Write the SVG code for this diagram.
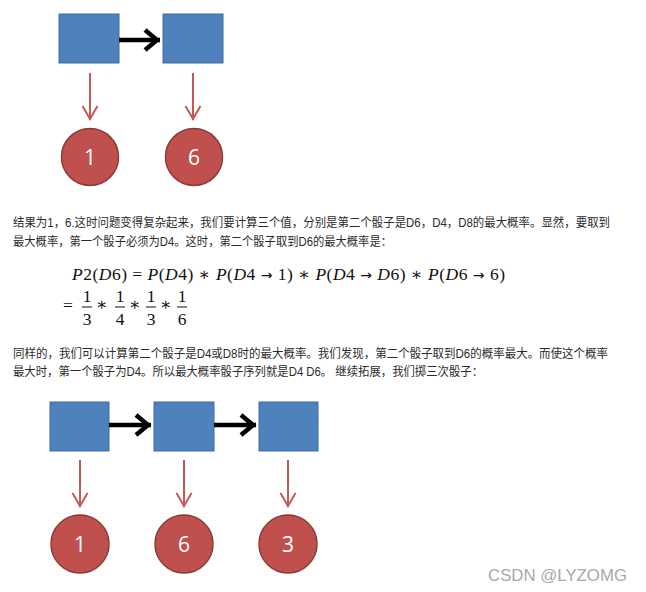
<svg xmlns="http://www.w3.org/2000/svg" width="646" height="592" viewBox="0 0 646 592">
<style>
.box{fill:#4f81bd;stroke:#3e6da6;stroke-width:1}
.ball{fill:#c0504d;stroke:#8f3a37;stroke-width:1.5}
.num{font-family:"Open Sans","Liberation Sans",Arial,sans-serif;font-size:21px;fill:#fff;text-anchor:middle}
.blk{stroke:#000;stroke-width:4.5;fill:none}
.red{stroke:#c45a57;stroke-width:2;fill:none}
.p{font-family:"Liberation Sans","Noto Sans CJK SC",sans-serif;font-size:12px;fill:#2b2b2b}
.m{font-family:"Liberation Serif","DejaVu Serif",serif;font-size:17.5px;fill:#111}
.i{font-style:italic}
.ar{font-family:"DejaVu Sans",sans-serif;font-size:14px}
.c{text-anchor:middle}
.bar{stroke:#111;stroke-width:1}
.wm{font-family:"Liberation Sans",Arial,sans-serif;font-size:16px;fill:#a8a8a8}
</style>
<defs>
<marker id="hb" markerUnits="userSpaceOnUse" markerWidth="30" markerHeight="30" viewBox="-20 -15 30 30" refX="0" refY="0" orient="auto" overflow="visible">
<path d="M-15,-10 L-3,0 L-15,10" fill="none" stroke="#000" stroke-width="4.5"/>
</marker>
<marker id="hr" markerUnits="userSpaceOnUse" markerWidth="30" markerHeight="30" viewBox="-20 -15 30 30" refX="0" refY="0" orient="auto" overflow="visible">
<path d="M-14,-7.5 L-1,0 L-14,7.5" fill="none" stroke="#c45a57" stroke-width="2"/>
</marker>
</defs>

<g id="top-diagram">
<g id="t-box1"><rect class="box" x="59" y="14" width="60" height="49"/></g>
<g id="t-box2"><rect class="box" x="163" y="14" width="60" height="49"/></g>
<g id="t-out1"><circle class="ball" cx="90" cy="157" r="28.5"/><text class="num" x="90" y="164.5">1</text></g>
<g id="t-out2"><circle class="ball" cx="194" cy="157" r="28.5"/><text class="num" x="194" y="164.5">6</text></g>
<g id="t-connectors">
<line class="blk" x1="119" y1="40" x2="160" y2="40" marker-end="url(#hb)"/>
<line class="red" x1="90" y1="73" x2="90" y2="120" marker-end="url(#hr)"/>
<line class="red" x1="193" y1="73" x2="193" y2="120" marker-end="url(#hr)"/>
</g>
</g>

<g id="para1">
<text class="p" x="13" y="227" textLength="597" lengthAdjust="spacingAndGlyphs">结果为1，6.这时问题变得复杂起来，我们要计算三个值，分别是第二个骰子是D6，D4，D8的最大概率。显然，要取到</text>
<text class="p" x="13" y="246" textLength="379" lengthAdjust="spacingAndGlyphs">最大概率，第一个骰子必须为D4。这时，第二个骰子取到D6的最大概率是：</text>
</g>

<g id="formula">
<text class="m" x="72" y="280" textLength="433" lengthAdjust="spacing"><tspan class="i">P</tspan>2(<tspan class="i">D</tspan>6) = <tspan class="i">P</tspan>(<tspan class="i">D</tspan>4) ∗ <tspan class="i">P</tspan>(<tspan class="i">D</tspan>4 <tspan class="ar">→</tspan> 1) ∗ <tspan class="i">P</tspan>(<tspan class="i">D</tspan>4 <tspan class="ar">→</tspan> <tspan class="i">D</tspan>6) ∗ <tspan class="i">P</tspan>(<tspan class="i">D</tspan>6 <tspan class="ar">→</tspan> 6)</text>
<text class="m c" x="68" y="311">=</text>
<text class="m c" x="87" y="302">1</text><line class="bar" x1="82" y1="307" x2="92" y2="307"/><text class="m c" x="87" y="325">3</text>
<text class="m c" x="102" y="310">∗</text>
<text class="m c" x="120" y="302">1</text><line class="bar" x1="115" y1="307" x2="125" y2="307"/><text class="m c" x="120" y="325">4</text>
<text class="m c" x="135" y="310">∗</text>
<text class="m c" x="151" y="302">1</text><line class="bar" x1="146" y1="307" x2="156" y2="307"/><text class="m c" x="151" y="325">3</text>
<text class="m c" x="166" y="310">∗</text>
<text class="m c" x="182" y="302">1</text><line class="bar" x1="177" y1="307" x2="187" y2="307"/><text class="m c" x="182" y="325">6</text>
</g>

<g id="para2">
<text class="p" x="13" y="358" textLength="595" lengthAdjust="spacingAndGlyphs">同样的，我们可以计算第二个骰子是D4或D8时的最大概率。我们发现，第二个骰子取到D6的概率最大。而使这个概率</text>
<text class="p" x="13" y="376" textLength="470" lengthAdjust="spacingAndGlyphs">最大时，第一个骰子为D4。所以最大概率骰子序列就是D4 D6。 继续拓展，我们掷三次骰子：</text>
</g>

<g id="bottom-diagram">
<g id="b-box1"><rect class="box" x="50" y="402" width="59" height="49"/></g>
<g id="b-box2"><rect class="box" x="154" y="402" width="60" height="49"/></g>
<g id="b-box3"><rect class="box" x="259" y="402" width="59" height="49"/></g>
<g id="b-out1"><circle class="ball" cx="80" cy="544" r="29"/><text class="num" x="80" y="551.5">1</text></g>
<g id="b-out2"><circle class="ball" cx="184" cy="544" r="29"/><text class="num" x="184" y="551.5">6</text></g>
<g id="b-out3"><circle class="ball" cx="288" cy="544" r="29"/><text class="num" x="288" y="551.5">3</text></g>
<g id="b-connectors">
<line class="blk" x1="109" y1="425" x2="151" y2="425" marker-end="url(#hb)"/>
<line class="blk" x1="214" y1="425" x2="256" y2="425" marker-end="url(#hb)"/>
<line class="red" x1="80" y1="460" x2="80" y2="507" marker-end="url(#hr)"/>
<line class="red" x1="184" y1="460" x2="184" y2="507" marker-end="url(#hr)"/>
<line class="red" x1="288" y1="460" x2="288" y2="507" marker-end="url(#hr)"/>
</g>
</g>

<text class="wm" x="488" y="581" textLength="139" lengthAdjust="spacingAndGlyphs">CSDN @LYZOMG</text>
</svg>
